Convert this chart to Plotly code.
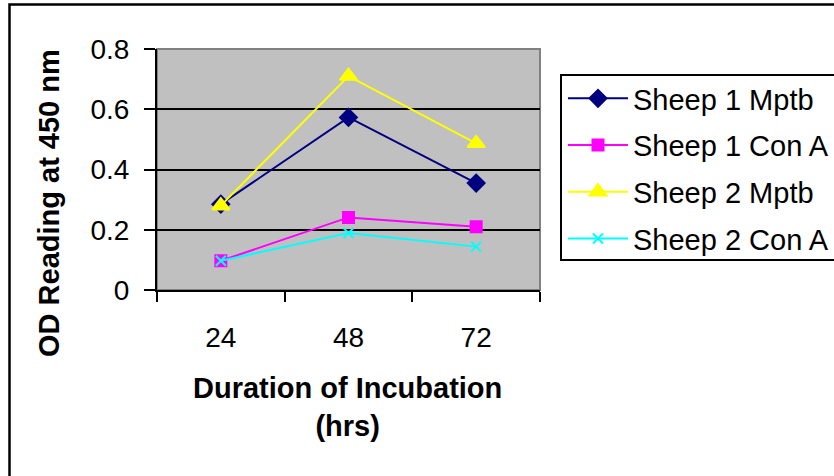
import plotly.graph_objects as go

# Incubation durations (hours) shown as categories
durations = ["24", "48", "72"]

# OD readings at 450 nm for each sample
sheep1_mptb = [0.285, 0.573, 0.355]
sheep1_cona = [0.097, 0.241, 0.210]
sheep2_mptb = [0.280, 0.710, 0.487]
sheep2_cona = [0.097, 0.189, 0.144]

series_names = ["Sheep 1 Mptb", "Sheep 1 Con A", "Sheep 2 Mptb", "Sheep 2 Con A"]
series_values = [sheep1_mptb, sheep1_cona, sheep2_mptb, sheep2_cona]
series_colors = ["#000080", "#FF00FF", "#FFFF00", "#00FFFF"]
series_symbols = ["diamond", "square", "triangle-up", "x-thin"]
series_sizes = [13, 11, 15, 10]

W, H = 834, 476
# plot area in pixels
PL, PR, PT, PB = 157, 540, 49, 290


def px(x):
    return (x - PL) / (PR - PL)


def py(y):
    return (PB - y) / (PB - PT)


FONT = "Liberation Sans, Arial, sans-serif"

fig = go.Figure()
for name, vals, col, sym, sz in zip(series_names, series_values, series_colors,
                                    series_symbols, series_sizes):
    fig.add_trace(go.Scatter(
        x=durations, y=vals, name=name, mode="lines+markers",
        legendgroup=name,
        line=dict(color=col, width=2),
        marker=dict(color=col, symbol=sym, size=sz,
                    line=dict(color=col, width=2)),
        cliponaxis=False,
    ))

fig.update_layout(
    width=W, height=H,
    margin=dict(l=PL, r=W - PR, t=PT, b=H - PB, autoexpand=False),
    paper_bgcolor="white",
    plot_bgcolor="#C0C0C0",
    font=dict(family=FONT, color="black", size=28),
    showlegend=True,
    legend=dict(
        x=px(563), y=py(73), xanchor="left", yanchor="top",
        bgcolor="rgba(0,0,0,0)", borderwidth=0,
        font=dict(family=FONT, size=29, color="black"),
        tracegroupgap=6, itemwidth=60,
    ),
    xaxis=dict(
        type="category", range=[-0.5, 2.5], tickson="boundaries",
        ticks="outside", ticklen=10, tickwidth=2, tickcolor="black",
        showline=True, linecolor="black", linewidth=2,
        showgrid=False, zeroline=False,
        tickfont=dict(size=28), ticklabelstandoff=21,
    ),
    yaxis=dict(
        range=[0, 0.8], dtick=0.2, tick0=0,
        ticks="outside", ticklen=11, tickwidth=2, tickcolor="black",
        showline=True, linecolor="black", linewidth=2,
        showgrid=True, gridcolor="black", gridwidth=2,
        zeroline=False, tickfont=dict(size=28), ticklabelstandoff=9,
    ),
    shapes=[
        # grey plot-area border (top and right)
        dict(type="rect", xref="paper", yref="paper", x0=0, x1=1, y0=0, y1=1,
             line=dict(color="#808080", width=2), layer="below"),
        # legend box
        dict(type="rect", xref="paper", yref="paper",
             x0=px(561), x1=px(850), y0=py(75), y1=py(260),
             line=dict(color="black", width=2)),
        # chart frame
        dict(type="rect", xref="paper", yref="paper",
             x0=px(9.5), x1=px(845), y0=py(4.5), y1=py(490),
             line=dict(color="black", width=2.5)),
    ],
    annotations=[
        dict(text="<b>Duration of Incubation</b><br><b>(hrs)</b>",
             xref="paper", yref="paper", x=px(347.5), y=py(407),
             xanchor="center", yanchor="middle", showarrow=False,
             font=dict(size=29, family=FONT), align="center"),
        dict(text="<b>OD Reading at 450 nm</b>",
             xref="paper", yref="paper", x=px(49), y=py(203),
             xanchor="center", yanchor="middle", showarrow=False,
             textangle=-90, font=dict(size=29, family=FONT)),
    ],
)

fig.write_html("out.html")
